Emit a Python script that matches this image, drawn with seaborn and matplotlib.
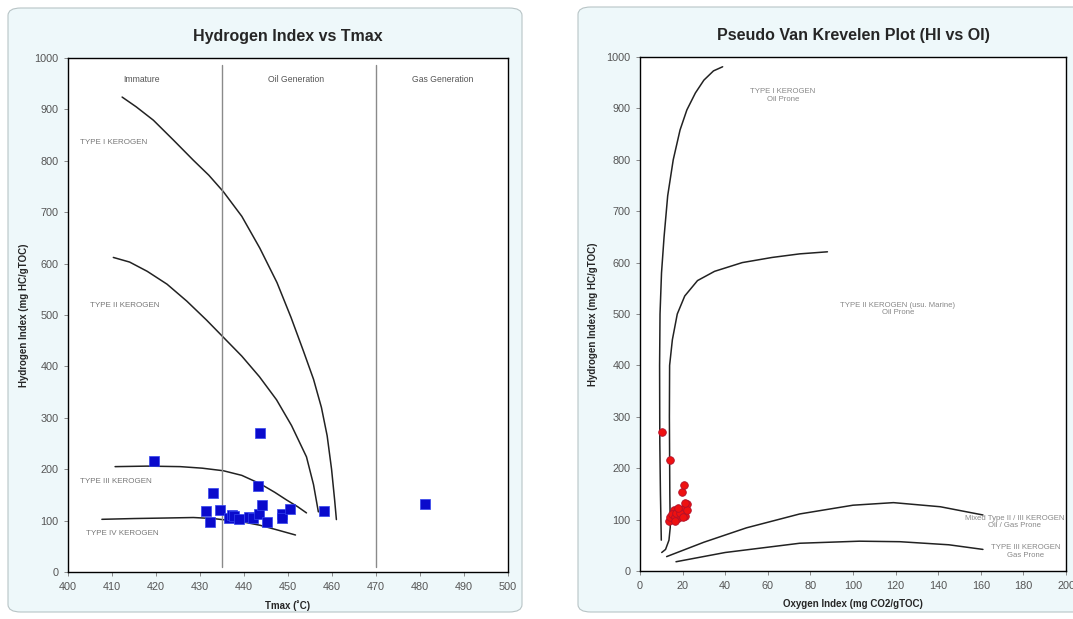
import numpy as np
import pandas as pd
import matplotlib
matplotlib.use("Agg")
import matplotlib.pyplot as plt
from matplotlib.patches import FancyBboxPatch
import seaborn as sns

# ---------------- data ----------------
tmax = [419.6, 443.7, 432.9, 431.3, 432.3, 434.5, 436.7, 437.2, 437.7, 438.8,
        441.1, 442.0, 443.1, 443.3, 444.2, 445.2, 448.6, 448.6, 450.5, 458.1, 481.1]
hi = [215, 271, 154, 118, 97, 121, 106, 111, 108, 102.5,
      107.6, 106, 167, 112, 130, 97, 113, 105.6, 122, 118.7, 131.7]
oi = [13.9, 10.5, 19.7, 16.0, 13.5, 20.0, 14.0, 15.0, 18.5, 18.0,
      21.0, 16.5, 20.8, 17.0, 22.0, 16.5, 19.0, 20.0, 18.0, 22.2, 21.0]

# HI vs Tmax kerogen boundary curves (Tmax, HI)
t1_x = [412.3, 415.5, 419.4, 424.0, 428.5, 432.0, 435.3, 439.5, 443.6, 447.5, 450.7, 453.5, 455.8, 457.6, 458.9, 459.9, 460.6, 461.0]
t1_y = [924, 905, 879, 840, 801, 772, 740, 692, 630, 563, 495, 430, 375, 320, 265, 200, 140, 102]
t2_x = [410.3, 414.0, 418.0, 422.5, 427.0, 431.5, 435.5, 439.5, 443.5, 447.4, 450.8, 454.2, 455.8, 456.9]
t2_y = [612, 603, 585, 560, 527, 490, 455, 420, 380, 335, 285, 224, 170, 117]
t3_x = [410.7, 418.0, 425.5, 430.5, 435.3, 439.5, 443.6, 447.0, 449.7, 452.2, 454.2]
t3_y = [205, 206, 205, 202, 197, 188, 172, 155, 140, 127, 115]
t4_x = [407.7, 415.0, 422.0, 428.5, 433.0, 436.0, 440.0, 443.6, 447.5, 451.7]
t4_y = [102.5, 104, 105, 106, 104, 101, 97, 91, 82, 72]

# Pseudo Van Krevelen curves (OI, HI)
v1_x = [10.0, 9.6, 9.3, 9.2, 9.4, 10.1, 11.3, 13.0, 15.6, 18.8, 22.0, 26.0, 30.0, 34.5, 38.8]
v1_y = [60, 150, 250, 400, 500, 580, 650, 730, 800, 858, 897, 930, 955, 973, 981]
v2_x = [10.2, 12.0, 13.6, 14.2, 14.0, 13.8, 13.9, 15.2, 17.5, 21.0, 27.0, 35.0, 48.0, 62.0, 75.0, 88.0]
v2_y = [36, 42, 60, 85, 150, 300, 400, 450, 500, 535, 565, 583, 600, 610, 617, 621]
v3_x = [12.5, 30, 50, 75, 100, 119, 141, 161]
v3_y = [28, 56, 84, 111, 128, 133, 125, 109]
v4_x = [16.9, 40, 75, 103, 122, 145, 161]
v4_y = [18, 36, 54, 58, 57, 51, 42]

left_xticks = list(range(400, 501, 10))
right_xticks = list(range(0, 201, 20))
yticks = list(range(0, 1001, 100))
stage_bounds = [435, 470]

# ---------------- style ----------------
sns.set_style("white")
plt.rcParams['font.family'] = ['Liberation Sans', 'DejaVu Sans']

fig = plt.figure(figsize=(10.73, 6.19), dpi=100)
fig.patch.set_facecolor("white")

W, H = 1073.0, 619.0
panel_fc = "#eef8fa"
for (x0, y0, x1, y1) in [(8, 8, 522, 612), (578, 7, 1090, 612)]:
    p = FancyBboxPatch((x0 / W, 1 - y1 / H), (x1 - x0) / W, (y1 - y0) / H,
                       boxstyle="round,pad=0,rounding_size=0.012",
                       transform=fig.transFigure, facecolor=panel_fc,
                       edgecolor="#b8c4c6", linewidth=0.8, zorder=-10)
    fig.patches.append(p)

ax1 = fig.add_axes([68 / W, 1 - 572 / H, (508 - 68) / W, (572 - 58) / H], zorder=1)
ax2 = fig.add_axes([640 / W, 1 - 571 / H, (1066 - 640) / W, (571 - 57) / H], zorder=1)

tick_color = "#555555"
for ax in (ax1, ax2):
    ax.set_facecolor("white")
    for s in ax.spines.values():
        s.set_color("black")
        s.set_linewidth(1.0)
    ax.tick_params(axis="both", which="both", direction="out", length=3, width=0.6,
                   color="#777777", labelcolor=tick_color, labelsize=7.8,
                   bottom=True, left=True, pad=4)
    ax.set_ylim(0, 1000)
    ax.set_yticks(yticks)

# ---------------- left panel ----------------
lk = dict(color="#222222", linewidth=1.1, sort=False, legend=False,
          estimator=None, errorbar=None)
for xs, ys in [(t1_x, t1_y), (t2_x, t2_y), (t3_x, t3_y), (t4_x, t4_y)]:
    sns.lineplot(x=xs, y=ys, ax=ax1, **lk)
for xv in stage_bounds:
    sns.lineplot(x=[xv, xv], y=[10, 986], ax=ax1, color="#8a8a8a", linewidth=1.0,
                 sort=False, legend=False, estimator=None, errorbar=None)

df1 = pd.DataFrame({"Tmax": tmax, "HI": hi})
sns.scatterplot(data=df1, x="Tmax", y="HI", ax=ax1, marker="s", s=42,
                color="#0a0acc", edgecolor="#3344ee", linewidth=0.5, zorder=5)

ax1.set_xlim(400, 500)
ax1.set_xticks(left_xticks)
ax1.set_xlabel("Tmax (˚C)", fontsize=7, fontweight="bold", labelpad=6)
ax1.set_ylabel("Hydrogen Index (mg HC/gTOC)", fontsize=7, fontweight="bold", labelpad=4)
ax1.set_title("Hydrogen Index vs Tmax", fontsize=11.5, fontweight="bold", pad=12)

lbl = dict(fontsize=6.2, color="#555555")
ax1.text(416.8, 958, "Immature", ha="center", va="center", **lbl)
ax1.text(451.8, 958, "Oil Generation", ha="center", va="center", **lbl)
ax1.text(485.2, 958, "Gas Generation", ha="center", va="center", **lbl)
ax1.text(402.8, 835, "TYPE I KEROGEN", ha="left", va="center", fontsize=5.8, color="#777777")
ax1.text(405.0, 519, "TYPE II KEROGEN", ha="left", va="center", fontsize=5.8, color="#777777")
ax1.text(402.8, 177, "TYPE III KEROGEN", ha="left", va="center", fontsize=5.8, color="#777777")
ax1.text(404.0, 75, "TYPE IV KEROGEN", ha="left", va="center", fontsize=5.8, color="#777777")

# ---------------- right panel ----------------
for xs, ys in [(v1_x, v1_y), (v2_x, v2_y), (v3_x, v3_y), (v4_x, v4_y)]:
    sns.lineplot(x=xs, y=ys, ax=ax2, **lk)

df2 = pd.DataFrame({"OI": oi, "HI": hi})
sns.scatterplot(data=df2, x="OI", y="HI", ax=ax2, marker="o", s=30,
                color="#ee1111", edgecolor="#b0102a", linewidth=0.6, zorder=5)

ax2.set_xlim(0, 200)
ax2.set_xticks(right_xticks)
ax2.set_xlabel("Oxygen Index (mg CO2/gTOC)", fontsize=7, fontweight="bold", labelpad=6)
ax2.set_ylabel("Hydrogen Index (mg HC/gTOC)", fontsize=7, fontweight="bold", labelpad=6)
ax2.set_title("Pseudo Van Krevelen Plot (HI vs OI)", fontsize=11.5, fontweight="bold", pad=12)

rl = dict(fontsize=5.6, color="#888888", ha="center", va="center", linespacing=1.1)
ax2.text(67, 925, "TYPE I KEROGEN\nOil Prone", **rl)
ax2.text(121, 510, "TYPE II KEROGEN (usu. Marine)\nOil Prone", **rl)
ax2.text(176, 95, "Mixed Type II / III KEROGEN\nOil / Gas Prone", **rl)
ax2.text(181, 38, "TYPE III KEROGEN\nGas Prone", **rl)

fig.savefig("out.png", dpi=100, facecolor=fig.get_facecolor())
